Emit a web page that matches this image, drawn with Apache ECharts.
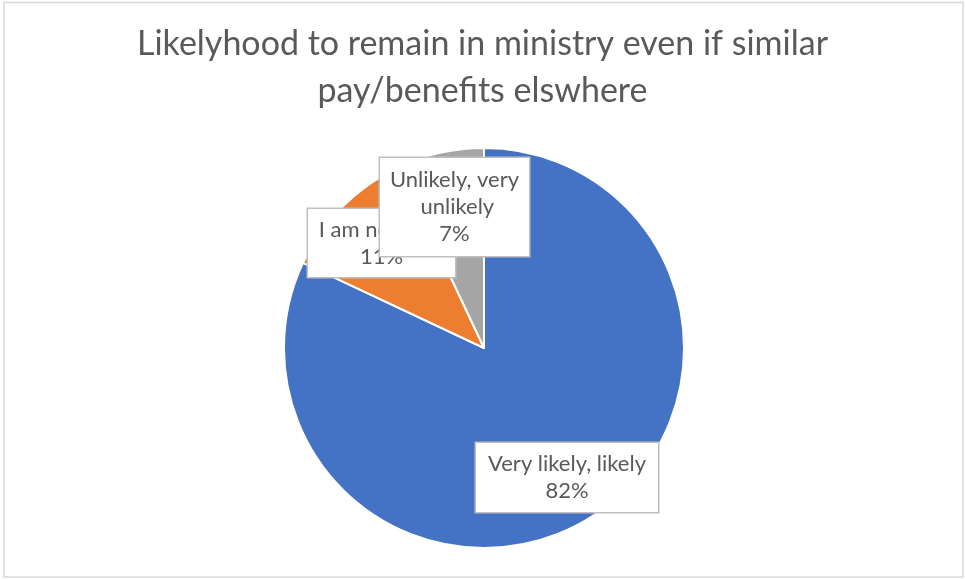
<!DOCTYPE html>
<html>
<head>
<meta charset="utf-8">
<script src="https://cdn.jsdelivr.net/npm/echarts@6/dist/echarts.min.js"></script>
<style>
  html, body { margin: 0; padding: 0; background: #ffffff; }
  #chart { width: 965px; height: 579px; }
</style>
</head>
<body>
<div id="chart"></div>
<script>
// Survey answers and their shares (percent)
const titleText = 'Likelyhood to remain in ministry even if similar\npay/benefits elswhere';
const categories = ['Very likely, likely', 'I am not sure', 'Unlikely, very unlikely'];
const shares = [82, 11, 7];
const sliceColors = ['#4472C4', '#ED7D31', '#A5A5A5'];

const FONT = 'Lato, "Open Sans", sans-serif';
const TEXT_COLOR = '#595959';

// Pie geometry
const pieCenter = [484, 348];
const pieRadius = 200;

// Callout box centres, as offsets from the pie centre, plus box content widths and paddings
const calloutOffsets = [[83, 129.5], [-102.5, -105], [-29.5, -141]];
const calloutWidths = [166, 135, 133];
const calloutPadding = [[7.5, 8], [7, 6], [8.5, 8]];

const chart = echarts.init(document.getElementById('chart'), null, { renderer: 'canvas' });

chart.setOption({
  animation: false,
  backgroundColor: '#ffffff',
  title: {
    text: titleText,
    left: 'center',
    top: 21,
    padding: 0,
    textStyle: {
      fontFamily: FONT,
      fontSize: 34,
      fontWeight: 'normal',
      color: TEXT_COLOR,
      lineHeight: 47
    }
  },
  graphic: [{
    type: 'rect',
    silent: true,
    shape: { x: 4, y: 2.5, width: 959, height: 574.5 },
    style: { fill: 'none', stroke: '#d9d9d9', lineWidth: 1.5 }
  }],
  series: [{
    type: 'pie',
    center: pieCenter,
    radius: pieRadius,
    startAngle: 90,
    clockwise: true,
    avoidLabelOverlap: false,
    itemStyle: { borderColor: '#ffffff', borderWidth: 2 },
    labelLine: { show: false },
    data: categories.map((name, i) => ({
      name,
      value: shares[i],
      itemStyle: { color: sliceColors[i] },
      label: {
        width: calloutWidths[i],
        padding: calloutPadding[i]
      }
    })),
    label: {
      show: true,
      position: 'outside',
      formatter: p => p.name + '\n' + Math.round(p.percent) + '%',
      overflow: 'break',
      fontFamily: FONT,
      fontSize: 22,
      lineHeight: 27,
      color: TEXT_COLOR,
      align: 'center',
      backgroundColor: '#ffffff',
      borderColor: '#bfbfbf',
      borderWidth: 1.5
    },
    labelLayout: params => {
      const o = calloutOffsets[params.dataIndex];
      return {
        x: pieCenter[0] + o[0],
        y: pieCenter[1] + o[1],
        align: 'center',
        verticalAlign: 'middle'
      };
    }
  }]
});
</script>
</body>
</html>
